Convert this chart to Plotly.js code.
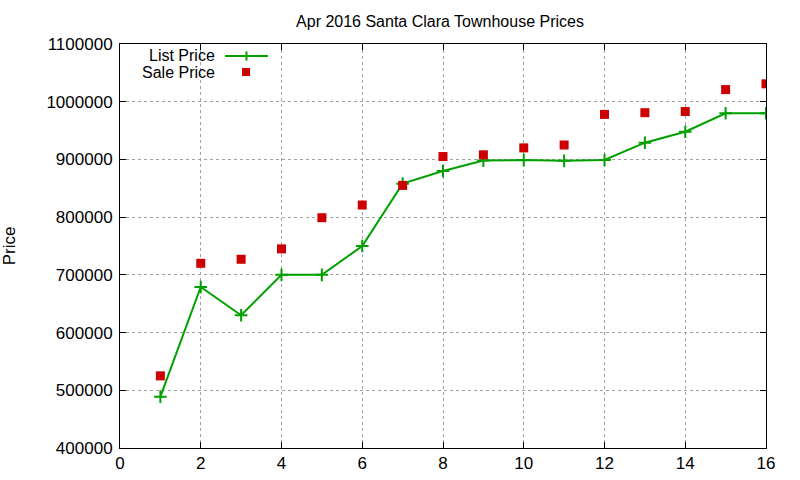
<!DOCTYPE html>
<html>
<head>
<meta charset="utf-8">
<script src="https://cdn.plot.ly/plotly-3.0.1.min.js"></script>
<style>html,body{margin:0;padding:0;background:#fff;}#chart{width:800px;height:480px;}</style>
</head>
<body>
<div id="chart"></div>
<script>
const months = [1,2,3,4,5,6,7,8,9,10,11,12,13,14,15,16];
const listPrice = [489000,679000,630000,700000,700000,750000,858000,880000,898000,899000,897500,899000,929000,948000,980000,980000];
const salePrice = [525000,720000,727000,745000,799000,821000,855000,905000,908000,920000,925000,978000,981000,983000,1021000,1031000];
const seriesNames = ['List Price','Sale Price'];
const chartTitle = 'Apr 2016 Santa Clara Townhouse Prices';
const yTitle = 'Price';

const green = '#00a000';
const red = '#cc0000';
const font = 'Liberation Sans, Arial, sans-serif';

const traces = [
  {x: months, y: listPrice, name: seriesNames[0], type: 'scatter', mode: 'lines+markers',
   line: {color: green, width: 2},
   marker: {symbol: 'cross-thin', size: 9, line: {color: green, width: 2}, color: green}},
  {x: months, y: salePrice, name: seriesNames[1], type: 'scatter', mode: 'markers',
   marker: {symbol: 'square', size: 9, color: red}}
];

const W = 646, H = 404;
const px = v => (v - 120) / W;
const py = v => (448 - v) / H;

const layout = {
  width: 800, height: 480,
  margin: {l: 120, r: 34, t: 44, b: 32},
  paper_bgcolor: '#fff', plot_bgcolor: '#fff',
  showlegend: false,
  font: {family: font, size: 16, color: '#000'},
  title: {text: chartTitle, font: {family: font, size: 16, color: '#000'}, x: 0.55, xanchor: 'center', y: 0.956, yanchor: 'middle'},
  xaxis: {range: [0, 16], dtick: 2, tick0: 0, showgrid: true, gridcolor: '#a0a0a0', griddash: 'dot', gridwidth: 1,
    showline: true, linecolor: '#000', linewidth: 1, mirror: 'ticks', ticks: 'inside', ticklen: 6, tickcolor: '#000',
    zeroline: false, tickfont: {family: font, size: 17, color: '#000'}, fixedrange: true},
  yaxis: {range: [400000, 1100000], dtick: 100000, tick0: 400000, tickformat: 'd', showgrid: true, gridcolor: '#a0a0a0', griddash: 'dot', gridwidth: 1,
    showline: true, linecolor: '#000', linewidth: 1, mirror: 'ticks', ticks: 'inside', ticklen: 6, tickcolor: '#000',
    ticklabelstandoff: 3,
    zeroline: false, tickfont: {family: font, size: 17, color: '#000'},
    title: {text: yTitle, font: {family: font, size: 17, color: '#000'}, standoff: 32}, fixedrange: true},
  shapes: [
    {type: 'line', xref: 'paper', yref: 'paper', x0: px(225), x1: px(268), y0: py(56), y1: py(56), line: {color: green, width: 2}},
    {type: 'line', xref: 'paper', yref: 'paper', x0: px(246.5), x1: px(246.5), y0: py(51.5), y1: py(60.5), line: {color: green, width: 2}},
    {type: 'rect', xref: 'paper', yref: 'paper', x0: px(242), x1: px(250), y0: py(68), y1: py(76), fillcolor: red, line: {width: 0}}
  ],
  annotations: [
    {text: seriesNames[0], xref: 'paper', yref: 'paper', x: px(217), y: py(55), xanchor: 'right', yanchor: 'middle', height: 16, showarrow: false, font: {family: font, size: 16, color: '#000'}},
    {text: seriesNames[1], xref: 'paper', yref: 'paper', x: px(217), y: py(72), xanchor: 'right', yanchor: 'middle', height: 16, showarrow: false, font: {family: font, size: 16, color: '#000'}}
  ]
};

Plotly.newPlot('chart', traces, layout, {displayModeBar: false, staticPlot: true});
</script>
</body>
</html>
